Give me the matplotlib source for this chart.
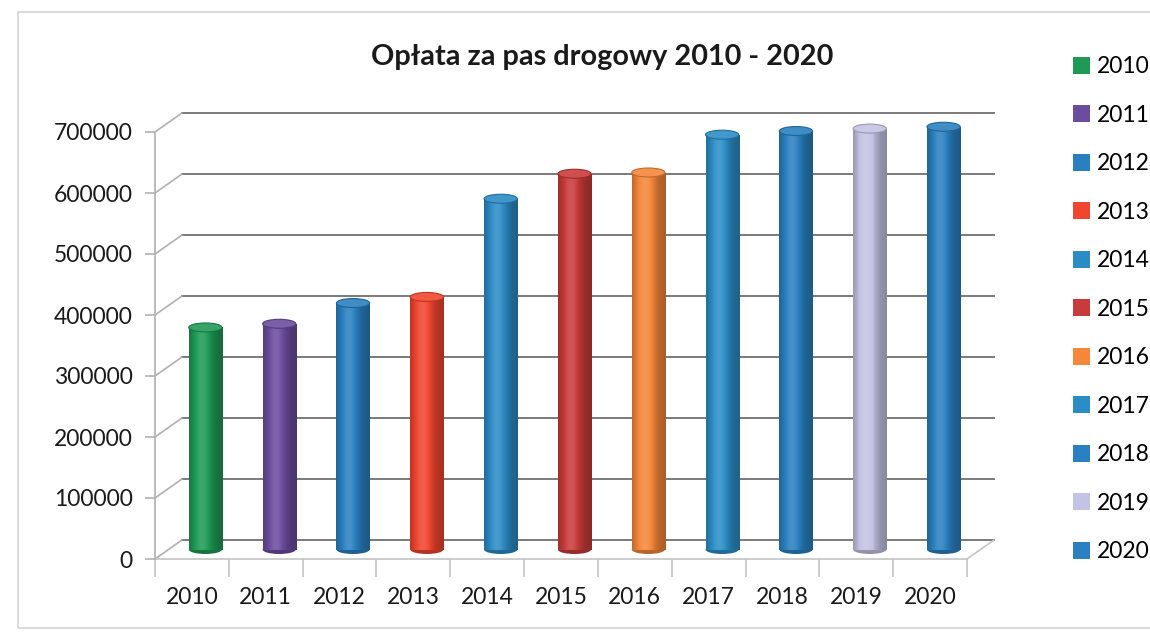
import numpy as np
import matplotlib.pyplot as plt
import matplotlib.transforms as mtransforms
from matplotlib.patches import Rectangle, Ellipse, Patch, ConnectionPatch
from matplotlib.colors import to_rgb

# data
years = ['2010', '2011', '2012', '2013', '2014', '2015',
         '2016', '2017', '2018', '2019', '2020']
fees = [364000, 370000, 404000, 414000, 575000, 616000,
        618000, 680000, 686000, 690000, 693000]
bar_colors = ['#1f9a55', '#6c4c9e', '#2a7fc1', '#f0452e', '#2b8bc4', '#c83b3a',
              '#f5863a', '#2b8dc6', '#2a80c0', '#c3c3e3', '#2a80c0']
y_ticks = [0, 100000, 200000, 300000, 400000, 500000, 600000, 700000]

plt.rcParams['font.family'] = ['Lato', 'DejaVu Sans']

W, H = 1150, 633
fig = plt.figure(figsize=(W / 100, H / 100), dpi=100)

# light frame round the chart area
fig.patches.append(Rectangle((18 / W, 1 - 628 / H), 1.2, (628 - 12) / H,
                             transform=fig.transFigure, fill=False,
                             edgecolor='#d4d4d4', lw=1.2))

# front plane of the 3-D box, in pixels
left, right, bottom, top = 155, 967, 559, 132
ax = fig.add_axes([left / W, 1 - bottom / H, (right - left) / W, (bottom - top) / H])
ax.patch.set_alpha(0)

# depth of the box: back wall and middle (where the cylinders stand)
depth_x, depth_y = 27, 19
back = ax.transData + mtransforms.ScaledTranslation(depth_x / 100, depth_y / 100, fig.dpi_scale_trans)
mid = ax.transData + mtransforms.ScaledTranslation(depth_x / 200, depth_y / 200, fig.dpi_scale_trans)

n = len(years)
x = np.arange(n)
x0, x1 = -0.5, n - 0.5
grid_col = '#7a7a7a'

# back wall grid + side wall connectors
for v in y_ticks:
    ax.plot([x0, x1], [v, v], transform=back, color=grid_col, lw=1.4, zorder=1, clip_on=False)
    ax.add_artist(ConnectionPatch((x0, v), (x0, v), coordsA=ax.transData, coordsB=back,
                                  color='#b0b0b0', lw=1.2, zorder=1))

# floor
ax.plot([x0, x1], [0, 0], color='#c4c4c4', lw=1.2, zorder=1, clip_on=False)
ax.add_artist(ConnectionPatch((x1, 0), (x1, 0), coordsA=ax.transData, coordsB=back,
                              color='#c4c4c4', lw=1.2, zorder=1))

# cylinders
y_per_px = 700000 / (bottom - top)
bar_w = 0.45
cap_h = 9 * y_per_px
t = np.linspace(0, 1, 80)
shade = 0.7 + 0.45 * np.exp(-((t - 0.38) / 0.3) ** 2)
for xi, v, c in zip(x, fees, bar_colors):
    base = np.array(to_rgb(c))
    rows = []
    for s in shade:
        if s <= 1:
            rows.append(base * s)
        else:
            rows.append(base + (1 - base) * (s - 1) * 0.9)
    img = np.clip(np.array(rows), 0, 1)[np.newaxis, :, :]
    ax.add_patch(Ellipse((xi, 0), bar_w, cap_h, transform=mid, clip_on=False,
                         facecolor=base * 0.75, edgecolor='none', zorder=2))
    ax.imshow(img, extent=[xi - bar_w / 2, xi + bar_w / 2, 0, v], aspect='auto',
              transform=mid, interpolation='bilinear', zorder=3, clip_on=False)
    ax.add_patch(Ellipse((xi, v), bar_w, cap_h, transform=mid, clip_on=False,
                         facecolor=base + (1 - base) * 0.1, edgecolor=base * 0.78,
                         lw=0.8, zorder=4))

ax.set_xlim(x0, x1)
ax.set_ylim(0, 700000)
for name, sp in ax.spines.items():
    sp.set_visible(name == 'left')
ax.spines['left'].set_color('#b0b0b0')
ax.spines['left'].set_linewidth(1.2)

ax.set_yticks(y_ticks)
ax.set_yticklabels([str(v) for v in y_ticks], fontsize=16.5, color='#1a1a1a')
ax.tick_params(axis='y', length=7, width=1.2, color='#b0b0b0', pad=9)

ax.set_xticks(x)
ax.set_xticklabels(years, fontsize=16.5, color='#1a1a1a')
ax.tick_params(axis='x', length=0, pad=20)
ax.set_xticks(np.arange(x0, x1 + 0.01, 1), minor=True)
ax.tick_params(axis='x', which='minor', length=13, width=1.2, color='#c4c4c4')

fig.text(602 / W, 1 - 57 / H, 'Opłata za pas drogowy 2010 - 2020',
         ha='center', va='center', fontsize=20.8, fontweight='bold', color='#1a1a1a')

handles = [Patch(facecolor=c, edgecolor='none') for c in bar_colors]
fig.legend(handles, years, loc='upper left', bbox_to_anchor=(1064 / W, 1 - 47 / H),
           frameon=False, fontsize=16.5, handlelength=0.75, handleheight=0.75,
           handletextpad=0.3, labelspacing=1.2, borderaxespad=0)

fig.savefig('out.png', dpi=100, facecolor='white')
